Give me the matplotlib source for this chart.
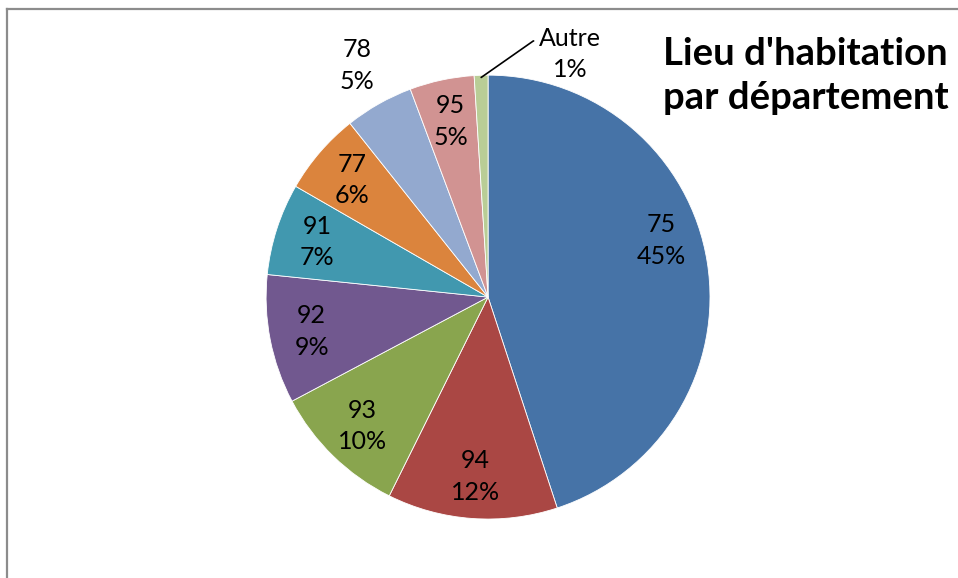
import numpy as np
import matplotlib
matplotlib.use("Agg")
import matplotlib.pyplot as plt

plt.rcParams['font.family'] = ['Lato', 'DejaVu Sans']

# departements, clockwise from the top
departements = ["75", "94", "93", "92", "91", "77", "78", "95", "Autre"]
parts = [45.0, 12.4, 9.9, 9.4, 6.7, 6.0, 5.0, 4.7, 1.0]
pct_labels = ["45%", "12%", "10%", "9%", "7%", "6%", "5%", "5%", "1%"]
colors = ["#4673a7", "#aa4744", "#89a54e", "#71588f", "#4198af",
          "#db843d", "#93a9cf", "#d19392", "#b9cd96"]

fig = plt.figure(figsize=(9.58, 5.78), dpi=100)

# chart frame (top and left borders visible)
fig.add_artist(plt.Line2D([0.0078, 1.0], [0.984, 0.984], color="#8c8c8c", lw=1.6))
fig.add_artist(plt.Line2D([0.0078, 0.0078], [0.0, 0.984], color="#8c8c8c", lw=1.6))

ax = fig.add_axes([0.2777, 0.102, 0.4635, 0.768])
wedges, _ = ax.pie(parts, colors=colors, startangle=90, counterclock=False,
                   radius=1.0, wedgeprops=dict(edgecolor="white", linewidth=0.6))
ax.set_xlim(-1, 1)
ax.set_ylim(-1, 1)
ax.set_aspect("equal")
ax.axis("off")

# label placement: (distance from centre, angle shift in degrees)
placement = {"75": (0.82, 9), "78": (1.2, 0)}
for w, dep, pct in zip(wedges, departements, pct_labels):
    if dep == "Autre":
        continue
    mid = np.radians((w.theta1 + w.theta2) / 2)
    dist, shift = placement.get(dep, (0.81, 0))
    mid += np.radians(shift)
    ax.text(dist * np.cos(mid), dist * np.sin(mid), f"{dep}\n{pct}",
            ha="center", va="center", fontsize=18, linespacing=1.45,
            clip_on=False)

# small slice gets a leader line
w = wedges[-1]
mid = np.radians((w.theta1 + w.theta2) / 2)
ax.annotate(f"{departements[-1]}\n{pct_labels[-1]}",
            xy=(0.99 * np.cos(mid), 0.99 * np.sin(mid)),
            xytext=(0.37, 1.095), ha="center", va="center",
            fontsize=18, linespacing=1.45, annotation_clip=False,
            arrowprops=dict(arrowstyle="-", color="black", lw=1.2,
                            connectionstyle="angle,angleA=0,angleB=35,rad=0",
                            relpos=(0.0, 0.74), shrinkA=2, shrinkB=0))

fig.text(0.841, 0.8685, "Lieu d'habitation\npar département", ha="center", va="center",
         fontsize=27.5, fontweight="bold", linespacing=1.33)

fig.savefig("out.png", dpi=100)
